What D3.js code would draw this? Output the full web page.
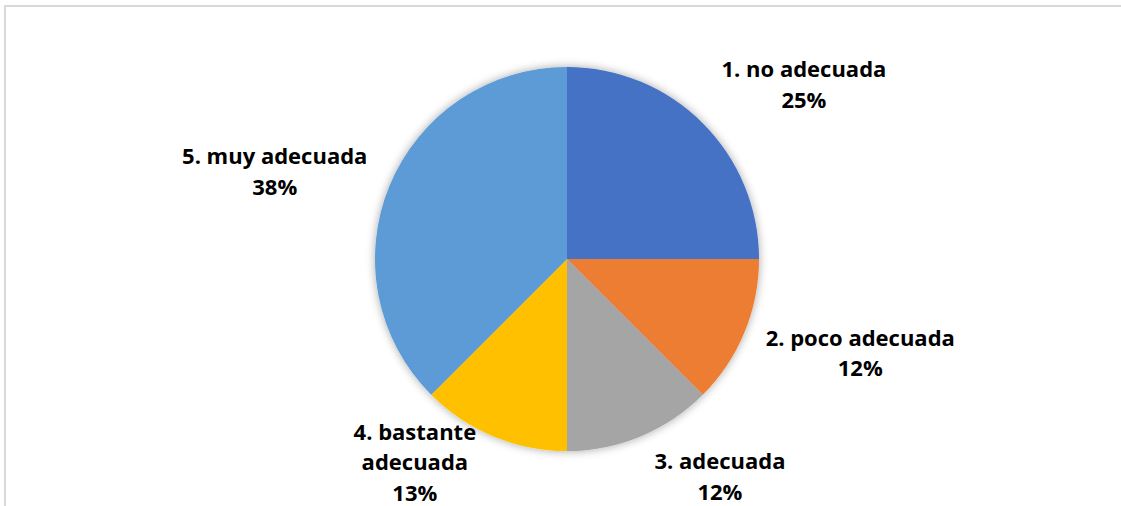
<!DOCTYPE html>
<html><head><meta charset="utf-8">
<script src="https://cdn.jsdelivr.net/npm/d3@7"></script>
<style>body{margin:0;background:#fff}svg{display:block}</style>
</head><body>
<svg id="c" width="1121" height="506"></svg>
<script>
const categories = ["1. no adecuada","2. poco adecuada","3. adecuada","4. bastante adecuada","5. muy adecuada"];
const values = [2, 1, 1, 1, 3];
const percentLabels = ["25%","12%","12%","13%","38%"];
const labelLines = [["1. no adecuada"],["2. poco adecuada"],["3. adecuada"],["4. bastante","adecuada"],["5. muy adecuada"]];
const colors = ["#4472C4","#ED7D31","#A5A5A5","#FFC000","#5B9BD5"];

const W = 1121, H = 506;
const svg = d3.select("#c");
svg.append("rect").attr("x",5).attr("y",6).attr("width",W+10).attr("height",H+10)
  .attr("fill","#fff").attr("stroke","#d9d9d9").attr("stroke-width",2);

const defs = svg.append("defs");
const f = defs.append("filter").attr("id","sh").attr("x","-20%").attr("y","-20%").attr("width","140%").attr("height","140%");
f.append("feGaussianBlur").attr("in","SourceAlpha").attr("stdDeviation",5).attr("result","b");
f.append("feComponentTransfer").attr("in","b").attr("result","b2")
  .append("feFuncA").attr("type","linear").attr("slope",0.35);
const m = f.append("feMerge");
m.append("feMergeNode").attr("in","b2");
m.append("feMergeNode").attr("in","SourceGraphic");

const cx = 567, cy = 259, R = 192;
const g = svg.append("g").attr("transform",`translate(${cx},${cy})`);
const pie = d3.pie().sort(null).value(d=>d)(values);
const arc = d3.arc().innerRadius(0).outerRadius(R);
const pg = g.append("g").attr("filter","url(#sh)");
pg.selectAll("path").data(pie).join("path").attr("d",arc).attr("fill",(d,i)=>colors[i]);

// label placement: polar (angle deg from 12 o'clock, distance) for best-fit label centers
const labelPolar = [[53.7,294],[107.8,308],[144.9,266],[216.8,254],[286.6,305]];
const lineH = 30.5;
labelLines.forEach((lines,i)=>{
  const [a,dist] = labelPolar[i];
  const rad = a*Math.PI/180;
  const x = Math.sin(rad)*dist, y = -Math.cos(rad)*dist;
  const all = lines.concat([percentLabels[i]]);
  const t = g.append("text").attr("text-anchor","middle")
    .attr("font-family","'Open Sans', sans-serif").attr("font-weight","bold")
    .attr("font-size",22).attr("fill","#000");
  all.forEach((s,k)=>{
    t.append("tspan").attr("x",x).attr("y", y + (k-(all.length-1)/2)*lineH).attr("dy","0.35em").text(s);
  });
});
</script>
</body></html>
